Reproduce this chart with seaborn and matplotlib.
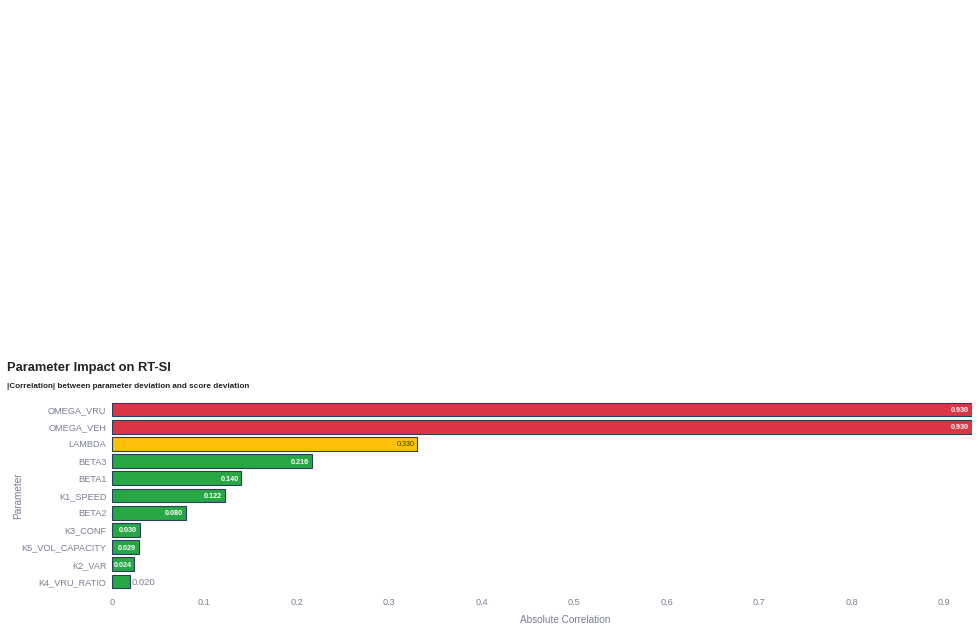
import matplotlib
matplotlib.use("Agg")
import matplotlib.pyplot as plt
import seaborn as sns
import pandas as pd

params = ["OMEGA_VRU", "OMEGA_VEH", "LAMBDA", "BETA3", "BETA1", "K1_SPEED",
          "BETA2", "K3_CONF", "K5_VOL_CAPACITY", "K2_VAR", "K4_VRU_RATIO"]
values = [0.930, 0.930, 0.330, 0.216, 0.140, 0.122, 0.080, 0.030, 0.029, 0.024, 0.020]
colors = ["#dc3545", "#dc3545", "#ffc107", "#28a745", "#28a745", "#28a745",
          "#28a745", "#28a745", "#28a745", "#28a745", "#28a745"]
labels = ["0.930", "0.930", "0.330", "0.216", "0.140", "0.122", "0.080",
          "0.030", "0.029", "0.024", "0.020"]
xticks = [0, 0.1, 0.2, 0.3, 0.4, 0.5, 0.6, 0.7, 0.8, 0.9]

sns.set_style("white")
plt.rcParams['font.family'] = ['Liberation Sans', 'DejaVu Sans']

df = pd.DataFrame({"Parameter": params, "Value": values})

fig = plt.figure(figsize=(9.8, 6.31), dpi=100)
ax = fig.add_axes([112/980, 1 - 590/631, (972 - 112)/980, (590 - 401)/631])

sns.barplot(data=df, x="Value", y="Parameter", hue="Parameter",
            palette=colors, order=params, hue_order=params,
            orient="h", width=0.8, legend=False, ax=ax,
            edgecolor="#2a3f5f", linewidth=0.8, saturation=1)

ax.set_xlim(0, 0.93)
ax.set_ylim(len(params) - 0.5, -0.5)
ax.set_xticks(xticks)
ax.set_xticklabels(["0"] + [f"{t:g}" for t in xticks[1:]])
for s in ax.spines.values():
    s.set_visible(False)
ax.grid(False)
gray = "#7a7f92"
ax.tick_params(axis="both", length=0, colors=gray, labelsize=6.6)
ax.tick_params(axis="x", pad=6)
ax.tick_params(axis="y", pad=4)
ax.set_xlabel("Absolute Correlation", color=gray, fontsize=7.2)
ax.set_ylabel("Parameter", color=gray, fontsize=7.2)
ax.xaxis.set_label_coords((565 - 112) / 860, -(620 - 590) / 189)
ax.yaxis.set_label_coords(-(112 - 18) / 860, 0.5)
ax.xaxis.label.set_va("center")
ax.yaxis.label.set_va("center")

for i, (v, lab) in enumerate(zip(values, labels)):
    if v < 0.022:
        ax.text(v + 0.0015, i, lab, ha="left", va="center_baseline", color=gray, fontsize=6.8)
    else:
        tc = "#333333" if colors[i] == "#ffc107" else "white"
        ax.text(v - 0.003, i, lab, ha="right", va="center_baseline", color=tc,
                fontsize=5.2, fontweight="bold" if tc == "white" else "normal")

fig.text(7/980, 1 - 368/631, "Parameter Impact on RT-SI", fontsize=9.3,
         fontweight="bold", color="#222222", va="center", ha="left")
fig.text(7/980, 1 - 386/631, "|Correlation| between parameter deviation and score deviation",
         fontsize=5.9, fontweight="bold", color="#222222", va="center", ha="left")

fig.savefig("out.png", dpi=100, facecolor="white")
